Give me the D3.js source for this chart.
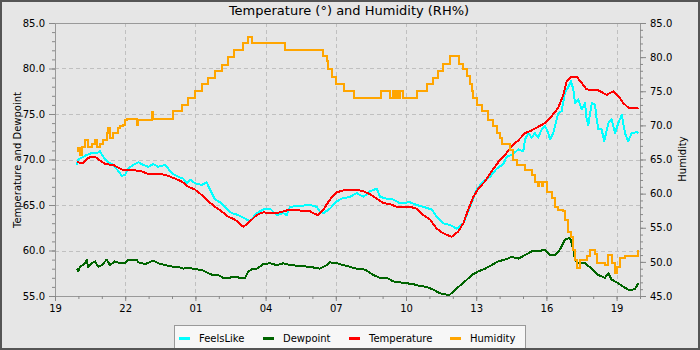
<!DOCTYPE html>
<html><head><meta charset="utf-8">
<script src="https://cdn.jsdelivr.net/npm/d3@7"></script>
<style>body{margin:0;background:#fff}svg{display:block;font-family:"DejaVu Sans",sans-serif}</style>
</head><body><svg id="c" width="700" height="350"></svg>
<script>
// ---------- DATA (hours since 19:00) ----------
const chartTitle = "Temperature (°) and Humidity (RH%)";
const leftTitle = "Temperature and Dewpoint";
const rightTitle = "Humidity";
const xTickHours = [0,3,6,9,12,15,18,21,24];
const xTickLabels = ["19","22","01","04","07","10","13","16","19"];
const leftTicks = [55,60,65,70,75,80,85];
const rightTicks = [45,50,55,60,65,70,75,80,85];
const seriesNames = ["FeelsLike","Dewpoint","Temperature","Humidity"];
const seriesColors = ["#00ffff","#006400","#ff0000","#ffa500"];

const tempHours = [0.93,1.21,1.42,1.71,2.14,2.49,2.85,3.42,3.71,3.99,4.27,4.56,4.84,5.13,5.41,5.70,5.98,6.27,6.55,6.84,7.12,7.41,7.69,8.05,8.33,8.62,8.90,9.19,9.47,9.76,10.04,10.33,10.61,10.90,11.11,11.25,11.47,11.75,12.04,12.47,12.89,13.18,13.46,13.75,14.03,14.32,14.60,15.17,15.46,15.74,16.03,16.31,16.59,16.95,17.24,17.45,17.66,17.88,18.09,18.38,18.66,18.94,19.23,19.52,19.80,20.09,20.37,20.65,20.94,21.23,21.51,21.72,21.87,22.08,22.29,22.51,22.72,23.22,23.58,23.86,24.07,24.29,24.50,24.79,24.93];
const tempValues = [69.7,69.6,70.2,70.3,69.5,69.4,68.9,68.8,68.7,68.4,68.4,68.4,68.2,67.9,67.6,67.0,66.7,66.1,65.4,64.8,64.3,63.7,63.4,62.6,63.2,63.9,64.2,64.1,64.1,64.3,64.5,64.5,64.3,64.3,64.0,63.9,64.5,65.6,66.4,66.7,66.7,66.5,66.2,65.7,65.2,65.1,64.8,64.8,64.6,63.9,63.4,62.4,61.9,61.5,62.1,63.0,64.5,65.9,66.8,67.6,68.7,69.7,70.5,71.5,72.1,72.9,73.2,73.6,74.0,74.8,75.7,77.1,78.6,79.1,79.1,78.4,77.7,77.6,77.1,77.5,77.0,76.2,75.7,75.6,75.7];

const feelsHours = [0.93,1.00,1.35,1.57,1.78,1.92,2.14,2.35,2.49,2.78,2.85,2.99,3.13,3.35,3.56,3.77,3.99,4.20,4.41,4.70,4.84,4.99,5.27,5.48,5.63,5.77,5.98,6.27,6.48,6.62,6.84,7.12,7.34,7.55,7.83,8.12,8.33,8.62,8.90,9.19,9.47,9.76,9.90,10.04,10.47,10.90,11.18,11.32,11.47,11.75,12.04,12.25,12.61,12.89,13.18,13.46,13.75,13.89,14.18,14.46,14.74,15.17,15.46,15.74,16.10,16.31,16.59,16.88,17.17,17.45,17.74,18.02,18.30,18.59,18.88,19.16,19.30,19.52,19.80,20.01,20.09,20.23,20.37,20.51,20.65,20.80,20.94,21.08,21.15,21.29,21.51,21.65,21.79,21.94,22.05,22.15,22.22,22.36,22.51,22.65,22.72,22.79,22.94,23.08,23.15,23.22,23.36,23.47,23.65,23.79,23.93,24.07,24.22,24.36,24.50,24.64,24.86,24.93];
const feelsValues = [69.4,70.0,70.5,70.7,70.7,70.9,70.0,69.6,69.4,68.5,68.2,68.3,69.0,69.4,69.7,69.4,69.2,69.5,69.2,69.4,69.0,68.5,68.1,67.9,67.4,67.8,67.4,67.2,67.5,66.7,65.6,65.2,64.6,64.1,63.9,63.5,63.2,64.1,64.5,64.6,63.9,64.1,63.9,64.8,64.9,65.0,64.8,64.3,64.1,64.6,65.4,65.7,65.9,66.3,65.9,66.5,66.8,65.9,65.7,65.6,65.2,65.3,65.0,64.8,64.5,63.7,63.0,62.8,62.4,63.0,64.8,66.7,67.6,68.1,69.0,69.5,70.3,70.5,71.1,70.9,72.2,72.9,72.4,72.9,72.4,73.3,73.7,72.9,72.2,72.9,75.1,75.3,77.3,78.0,78.6,77.7,76.2,76.6,75.5,76.2,74.4,73.8,76.2,76.0,74.4,73.3,73.3,72.0,74.0,74.4,72.9,74.0,74.9,72.9,72.0,72.9,73.0,72.9];

const dewHours = [0.93,1.00,1.07,1.28,1.35,1.42,1.57,1.71,1.85,2.00,2.21,2.35,2.56,2.78,2.99,3.13,3.49,3.56,3.85,4.20,4.41,4.70,5.06,5.27,5.48,5.70,5.91,6.12,6.34,6.55,6.76,6.98,7.19,7.41,7.69,7.91,8.12,8.26,8.47,8.62,8.90,9.19,9.47,9.76,10.04,10.47,10.90,11.32,11.61,11.75,12.04,12.32,12.61,12.89,13.25,13.60,13.89,14.18,14.46,14.74,15.03,15.31,15.60,15.88,16.17,16.45,16.85,17.24,17.52,17.81,18.09,18.38,18.66,18.94,19.23,19.52,19.80,20.09,20.37,20.65,20.94,21.15,21.37,21.58,21.79,22.01,22.15,22.22,22.36,22.65,22.94,23.22,23.50,23.65,23.79,24.07,24.36,24.57,24.79,24.93];
const dewValues = [58.0,57.7,58.2,58.6,59.0,58.2,58.6,58.8,58.2,58.4,59.0,58.4,58.8,58.6,58.6,59.0,59.0,58.7,58.5,58.9,58.6,58.4,58.2,58.2,58.0,58.1,58.0,57.9,57.8,57.5,57.3,57.3,57.0,57.0,57.1,57.0,57.0,57.7,58.0,58.0,58.5,58.6,58.4,58.6,58.4,58.3,58.2,58.0,58.4,58.7,58.6,58.4,58.2,58.0,57.9,57.3,57.0,57.0,56.6,56.5,56.4,56.3,56.1,56.0,55.7,55.3,55.1,56.0,56.6,57.3,57.7,58.0,58.4,58.8,59.0,59.3,59.1,59.5,59.9,59.9,60.1,59.5,59.5,60.1,61.2,61.4,60.1,59.0,58.6,58.6,58.0,57.3,57.0,57.5,56.8,56.4,55.9,55.6,55.8,56.4];

const humHours = [0.93,1.00,1.07,1.14,1.28,1.42,1.57,1.71,1.78,1.92,2.06,2.21,2.28,2.35,2.49,2.71,2.78,2.92,2.99,3.07,3.49,3.56,4.13,4.20,5.06,5.41,5.70,5.98,6.27,6.55,6.84,7.12,7.41,7.65,8.05,8.24,8.42,9.83,11.44,11.61,11.68,11.82,12.01,12.35,12.78,13.93,14.32,14.46,14.53,14.60,14.67,14.74,14.88,15.46,15.88,16.17,16.38,16.56,16.88,17.28,17.45,17.59,17.74,17.81,17.88,18.02,18.26,18.52,18.73,18.88,19.02,19.09,19.44,19.59,19.73,20.09,20.37,20.51,20.65,20.70,20.80,20.85,21.01,21.23,21.37,21.51,21.72,21.79,21.94,22.05,22.15,22.22,22.29,22.44,22.72,22.86,23.08,23.15,23.43,23.50,23.65,23.79,23.93,24.00,24.15,24.36,24.93];
const humValues = [66.2,66.7,65.7,66.9,67.9,66.9,67.2,67.9,66.9,67.2,67.9,68.9,69.6,68.1,68.9,69.6,69.9,70.1,70.8,70.9,70.1,70.8,71.9,70.9,72.1,73.0,74.0,75.0,76.0,76.9,77.9,78.9,80.0,81.1,82.0,82.9,82.0,81.1,80.1,79.4,78.2,77.1,76.0,75.1,74.0,75.1,74.0,75.0,74.0,75.0,74.0,75.0,74.0,75.0,76.0,77.0,78.0,79.0,80.1,79.0,78.2,77.2,76.0,75.0,74.0,73.0,72.1,70.8,69.9,68.9,68.1,67.2,66.4,64.9,64.2,63.5,62.7,61.7,61.1,61.7,61.1,61.7,60.3,59.4,58.1,57.6,57.4,56.1,54.4,53.7,51.7,50.3,49.1,50.3,50.8,51.7,51.2,49.8,49.8,49.5,51.0,49.8,48.3,49.3,50.5,50.8,51.7];

// ---------- LAYOUT ----------
const W = 700, H = 350;
const L = 55, R = 640, T = 23, B = 296;
const svg = d3.select("#c");
svg.append("rect").attr("width",W).attr("height",H).attr("fill","#e6e6e6");

const x = d3.scaleLinear().domain([0,25]).range([L,R]);
const yL = d3.scaleLinear().domain([55,85]).range([B,T]);
const yR = d3.scaleLinear().domain([45,85]).range([B,T]);

// grid
const grid = svg.append("g").attr("stroke","#c0c0c0").attr("stroke-dasharray","4,3").attr("stroke-width",1);
leftTicks.filter(v=>v>55&&v<85).forEach(v=>{
  grid.append("line").attr("x1",L).attr("x2",R).attr("y1",Math.round(yL(v))+0.5).attr("y2",Math.round(yL(v))+0.5);
});
xTickHours.filter(h=>h>0&&h<25).forEach(h=>{
  grid.append("line").attr("y1",T).attr("y2",B).attr("x1",Math.round(x(h))+0.5).attr("x2",Math.round(x(h))+0.5);
});

// series
function mk(hours, vals){ return hours.map((h,i)=>({h, v: vals[i]})); }
const lineL = d3.line().x(d=>x(d.h)).y(d=>yL(d.v));
const lineH = d3.line().x(d=>x(d.h)).y(d=>yR(d.v)).curve(d3.curveStepAfter);
const plot = svg.append("g").attr("fill","none").attr("stroke-width",2).attr("stroke-linejoin","round").attr("shape-rendering","crispEdges");
plot.append("path").datum(mk(feelsHours,feelsValues)).attr("d",lineL).attr("stroke",seriesColors[0]);
plot.append("path").datum(mk(dewHours,dewValues)).attr("d",lineL).attr("stroke",seriesColors[1]);
plot.append("path").datum(mk(tempHours,tempValues)).attr("d",lineL).attr("stroke",seriesColors[2]);
plot.append("path").datum(mk(humHours,humValues)).attr("d",lineH).attr("stroke",seriesColors[3]).attr("stroke-linejoin","miter");

// frame
svg.append("rect").attr("x",L+0.5).attr("y",T+0.5).attr("width",R-L).attr("height",B-T)
  .attr("fill","none").attr("stroke","#999").attr("stroke-width",1);

function styleAxis(g){
  g.select(".domain").remove();
  g.selectAll("line").attr("stroke","#888");
  g.selectAll("text").attr("fill","#000").attr("font-size",10).attr("font-family","DejaVu Sans");
}
// left axis
svg.append("g").attr("transform",`translate(${L},0)`)
  .call(d3.axisLeft(yL).tickValues(d3.range(55,86)).tickSize(3).tickFormat("")).call(styleAxis);
svg.append("g").attr("transform",`translate(${L},0)`)
  .call(d3.axisLeft(yL).tickValues(leftTicks).tickSize(6).tickPadding(4).tickFormat(d3.format(".1f"))).call(styleAxis);
// right axis
svg.append("g").attr("transform",`translate(${R},0)`)
  .call(d3.axisRight(yR).tickValues(d3.range(45,86)).tickSize(3).tickFormat("")).call(styleAxis);
svg.append("g").attr("transform",`translate(${R},0)`)
  .call(d3.axisRight(yR).tickValues(rightTicks).tickSize(6).tickPadding(4).tickFormat(d3.format(".1f"))).call(styleAxis);
// bottom axis
svg.append("g").attr("transform",`translate(0,${B})`)
  .call(d3.axisBottom(x).tickValues(d3.range(0,26)).tickSize(3).tickFormat("")).call(styleAxis);
svg.append("g").attr("transform",`translate(0,${B})`)
  .call(d3.axisBottom(x).tickValues(xTickHours).tickSize(5).tickPadding(4).tickFormat((d,i)=>xTickLabels[i])).call(styleAxis);

// titles
svg.append("text").attr("x",349).attr("y",15).attr("text-anchor","middle").attr("font-size",13).attr("fill","#000").text(chartTitle);
svg.append("text").attr("transform","translate(17,160) rotate(-90)").attr("text-anchor","middle").attr("dominant-baseline","central")
  .attr("font-size",10).attr("fill","#000").text(leftTitle);
svg.append("text").attr("transform","translate(682,159) rotate(-90)").attr("text-anchor","middle").attr("dominant-baseline","central")
  .attr("font-size",10).attr("fill","#000").text(rightTitle);

// legend
const lg = svg.append("g");
lg.append("rect").attr("x",174.5).attr("y",325.5).attr("width",351).attr("height",30).attr("fill","#f7f7f7").attr("stroke","#999");
const legX = [179, 263, 349, 450];
seriesNames.forEach((n,i)=>{
  lg.append("line").attr("x1",legX[i]).attr("x2",legX[i]+11).attr("y1",338.5).attr("y2",338.5).attr("stroke",seriesColors[i]).attr("stroke-width",3);
  lg.append("text").attr("x",legX[i]+20).attr("y",342).attr("font-size",10).attr("fill","#000").text(n);
});

// outer border
svg.append("rect").attr("x",1).attr("y",1).attr("width",W-2).attr("height",H-2).attr("fill","none").attr("stroke","#555").attr("stroke-width",2);
</script></body></html>
